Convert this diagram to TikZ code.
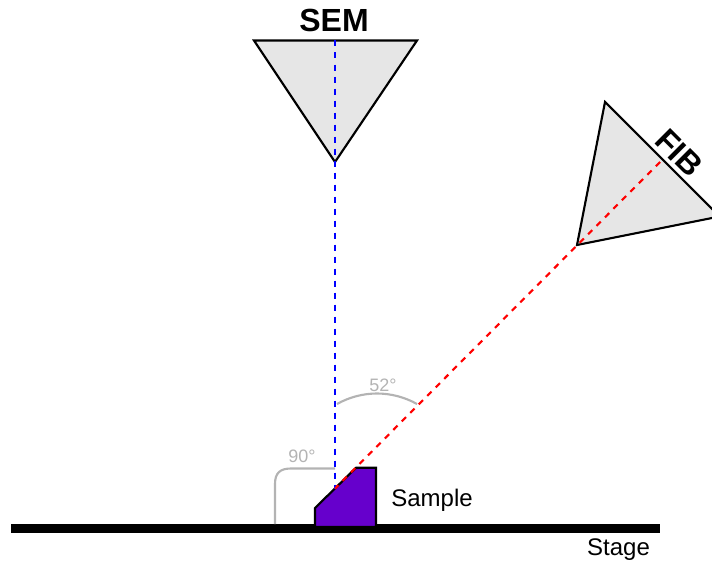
\documentclass[tikz,border=0pt]{standalone}
\usepackage{xcolor}
\usepackage{fontspec}
\setmainfont{Liberation Sans}
\usepackage{tikz}
\usetikzlibrary{positioning}

\definecolor{columngray}{HTML}{E6E6E6}
\definecolor{anglegray}{HTML}{B3B3B3}
\definecolor{samplepurple}{HTML}{6600CC}

\begin{document}
\begin{tikzpicture}[
    x=0.75pt, y=-0.75pt,
    column/.style={draw=black, line width=1.6pt, fill=columngray, line join=miter},
    beam/.style={line width=1.6pt, dash pattern=on 4.5pt off 4.5pt},
    anglemark/.style={draw=anglegray, line width=1.6pt},
    anglelabel/.style={text=anglegray, font=\fontsize{13.5pt}{15pt}\selectfont, inner sep=0pt},
    plainlabel/.style={font=\fontsize{18pt}{20pt}\selectfont, inner sep=0pt},
    columnlabel/.style={font=\fontsize{24pt}{26pt}\selectfont\bfseries, inner sep=0pt}
]
\useasboundingbox (0,0) rectangle (712,560);

\coordinate (semL) at (254,40.5);
\coordinate (semR) at (417,40.5);
\coordinate (semTip) at (335,162);
\coordinate (semTop) at (335,40.5);

\coordinate (fibTip) at (577,245);
\coordinate (fibL) at (605,102);
\coordinate (fibR) at (719.5,216.5);
\coordinate (fibTop) at (660,162);

\coordinate (target) at (335,488.5);

\draw[column] (semL) -- (semR) -- (semTip) -- cycle;
\draw[column] (fibTip) -- (fibL) -- (fibR) -- cycle;

\node[columnlabel] (semlabel) at (334,20) {SEM};
\node[columnlabel, rotate=-45] (fiblabel) at (679,153) {FIB};

% sample and stage
\draw[line width=7pt] (11,528.8) coordinate (stageL) -- (660,528.8) coordinate (stageR);
\draw[draw=black, line width=1.6pt, fill=samplepurple] (315,527) -- (315,508) -- (356,467.8) -- (376,467.8) -- (376,527) -- cycle;

\draw[beam, draw=blue] (semTop) -- (target);
\draw[beam, draw=red] (fibTop) -- (target);

% angles
\draw[anglemark] (337,404) .. controls (362,390) and (392,390) .. (417,404);
\draw[anglemark] (275,524) -- (275,484) .. controls (275,473) and (280,468.5) .. (291,468.5) -- (335,468.5);

\node[anglelabel] (angleB) at (383,385) {52°};
\node[anglelabel] (angleA) at (302,456) {90°};

\node[plainlabel] (samplelabel) at (432,500.5) {Sample};
\node[plainlabel] (stagelabel) at (618.5,549.5) {Stage};

\end{tikzpicture}
\end{document}
